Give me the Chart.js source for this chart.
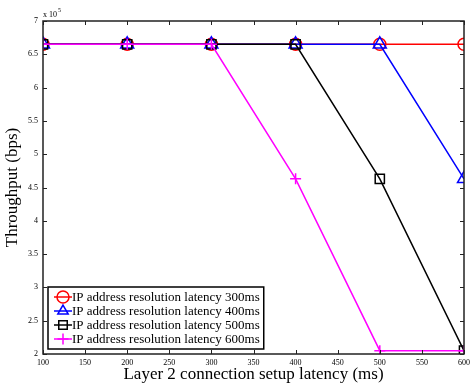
<!DOCTYPE html>
<html>
<head>
<meta charset="utf-8">
<script src="https://cdn.jsdelivr.net/npm/chart.js@4.4.1/dist/chart.umd.min.js"></script>
<style>
  html, body { margin: 0; padding: 0; background: #fff; }
  #wrap { width: 474px; height: 385px; }
</style>
</head>
<body>
<div id="wrap"><canvas id="throughputChart" width="474" height="385"></canvas></div>
<script>
// x axis: layer 2 connection setup latency (ms)
const setupLatency = [100, 200, 300, 400, 500, 600];
// throughput in units of 10^5 bps
const ipRes300 = [6.65, 6.65, 6.65, 6.65, 6.65, 6.65];
const ipRes400 = [6.65, 6.65, 6.65, 6.65, 6.65, 4.63];
const ipRes500 = [6.65, 6.65, 6.65, 6.65, 4.63, 2.05];
const ipRes600 = [6.65, 6.65, 6.65, 4.63, 2.05, 2.05];
const seriesLabels = [
    "IP address resolution latency 300ms",
    "IP address resolution latency 400ms",
    "IP address resolution latency 500ms",
    "IP address resolution latency 600ms"
];
const xTicks = [100, 150, 200, 250, 300, 350, 400, 450, 500, 550, 600];
const yTicks = [2, 2.5, 3, 3.5, 4, 4.5, 5, 5.5, 6, 6.5, 7];

const SERIF = "'Liberation Serif', 'DejaVu Serif', serif";
const AXIS_COLOR = "#222";
const markerSize = { circle: 6, triangle: 7.5, rect: 6.5, cross: 5.5 };

function toPoints(ys) {
    return setupLatency.map((x, i) => ({ x: x, y: ys[i] }));
}

function makeSet(label, ys, color, style, order) {
    return {
        label: label,
        data: toPoints(ys),
        borderColor: color,
        backgroundColor: "rgba(0,0,0,0)",
        pointBorderColor: color,
        pointBackgroundColor: "rgba(0,0,0,0)",
        pointStyle: style,
        pointRadius: markerSize[style],
        pointBorderWidth: 1.5,
        borderWidth: 1.5,
        tension: 0,
        order: order
    };
}

// MATLAB style box, inward ticks, exponent label and legend
const matlabFrame = {
    id: "matlabFrame",
    afterDraw(chart) {
        const ctx = chart.ctx;
        const area = chart.chartArea;
        const xs = chart.scales.x, ys = chart.scales.y;
        const tl = 4;
        ctx.save();
        ctx.strokeStyle = AXIS_COLOR;
        ctx.lineWidth = 1.5;
        ctx.strokeRect(area.left, area.top, area.right - area.left, area.bottom - area.top);
        ctx.lineWidth = 1;
        ctx.beginPath();
        xTicks.forEach(v => {
            const px = Math.round(xs.getPixelForValue(v)) + 0.5;
            ctx.moveTo(px, area.bottom); ctx.lineTo(px, area.bottom - tl);
            ctx.moveTo(px, area.top); ctx.lineTo(px, area.top + tl);
        });
        yTicks.forEach(v => {
            const py = Math.round(ys.getPixelForValue(v)) + 0.5;
            ctx.moveTo(area.left, py); ctx.lineTo(area.left + tl, py);
            ctx.moveTo(area.right, py); ctx.lineTo(area.right - tl, py);
        });
        ctx.stroke();

        // exponent
        ctx.fillStyle = "#000";
        ctx.textBaseline = "alphabetic";
        ctx.textAlign = "left";
        ctx.font = "8px " + SERIF;
        ctx.fillText("x 10", area.left, area.top - 4);
        const w = ctx.measureText("x 10").width;
        ctx.font = "6px " + SERIF;
        ctx.fillText("5", area.left + w + 1, area.top - 9);

        // legend
        ctx.font = "13px " + SERIF;
        const rowH = 14;
        let textW = 0;
        seriesLabels.forEach(l => { textW = Math.max(textW, ctx.measureText(l).width); });
        const bx = area.left + 5, by = area.bottom - 5 - rowH * 4 - 6;
        const bw = 24 + textW + 4, bh = rowH * 4 + 6;
        ctx.fillStyle = "#fff";
        ctx.fillRect(bx, by, bw, bh);
        ctx.lineWidth = 1.5;
        ctx.strokeStyle = "#000";
        ctx.strokeRect(bx, by, bw, bh);
        chart.data.datasets.forEach((ds, i) => {
            const cy = by + 3 + rowH * i + rowH / 2;
            const mx = bx + 15;
            ctx.strokeStyle = ds.borderColor;
            ctx.lineWidth = 1.5;
            ctx.beginPath();
            ctx.moveTo(mx - 9, cy); ctx.lineTo(mx + 9, cy);
            ctx.stroke();
            ctx.fillStyle = "rgba(0,0,0,0)";
            Chart.helpers.drawPoint(ctx, {
                pointStyle: ds.pointStyle,
                radius: Math.min(ds.pointRadius, 6),
                borderWidth: 1.5,
                rotation: 0
            }, mx, cy);
            ctx.fillStyle = "#000";
            ctx.textAlign = "left";
            ctx.textBaseline = "middle";
            ctx.fillText(ds.label, bx + 24, cy + 1);
        });
        ctx.restore();
    }
};

new Chart(document.getElementById("throughputChart"), {
    type: "line",
    data: {
        datasets: [
            makeSet(seriesLabels[0], ipRes300, "#ff0000", "circle", 3),
            makeSet(seriesLabels[1], ipRes400, "#0000ff", "triangle", 2),
            makeSet(seriesLabels[2], ipRes500, "#000000", "rect", 1),
            makeSet(seriesLabels[3], ipRes600, "#ff00ff", "cross", 0)
        ]
    },
    options: {
        responsive: false,
        animation: false,
        layout: { padding: { top: 21, right: 8, bottom: 0, left: 0 } },
        plugins: { legend: { display: false }, tooltip: { enabled: false } },
        scales: {
            x: {
                type: "linear",
                min: 100, max: 600,
                afterFit(scale) { scale.height = 31; },
                afterBuildTicks(scale) { scale.ticks = xTicks.map(v => ({ value: v })); },
                grid: { display: false, drawTicks: false },
                border: { display: false },
                ticks: { padding: 4, color: "#000", maxRotation: 0, autoSkip: false,
                         font: { family: SERIF, size: 8 } },
                title: { display: true, text: "Layer 2 connection setup latency (ms)",
                         color: "#000", padding: { top: 0, bottom: 0 },
                         font: { family: SERIF, size: 17 } }
            },
            y: {
                type: "linear",
                min: 2, max: 7,
                afterFit(scale) { scale.width = 43; },
                afterBuildTicks(scale) { scale.ticks = yTicks.map(v => ({ value: v })); },
                grid: { display: false, drawTicks: false },
                border: { display: false },
                ticks: { padding: 5, color: "#000", autoSkip: false,
                         font: { family: SERIF, size: 8 },
                         callback: v => String(v) },
                title: { display: true, text: "Throughput (bps)",
                         color: "#000", padding: { top: 2, bottom: 0 },
                         font: { family: SERIF, size: 17 } }
            }
        }
    },
    plugins: [matlabFrame]
});
</script>
</body>
</html>
